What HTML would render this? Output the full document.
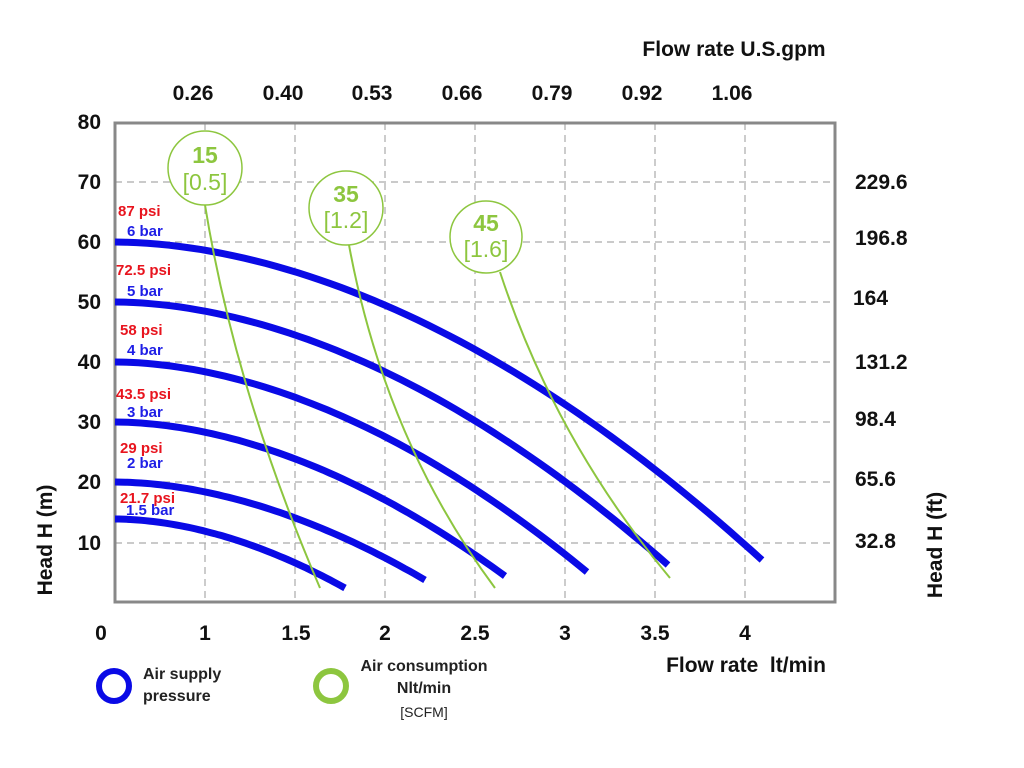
<!DOCTYPE html>
<html><head><meta charset="utf-8"><style>
html,body{margin:0;padding:0;background:#fff;}
svg{display:block;font-family:"Liberation Sans",Arial,sans-serif;}
.b{font-weight:bold;}
</style></head><body>
<svg id="s" width="1024" height="768" viewBox="0 0 1024 768" xmlns="http://www.w3.org/2000/svg">
<rect width="1024" height="768" fill="#fff"/>
<g stroke="#aaa" stroke-width="1.2" stroke-dasharray="7,5" fill="none">
<line x1="205" y1="123" x2="205" y2="602"/><line x1="295" y1="123" x2="295" y2="602"/>
<line x1="385" y1="123" x2="385" y2="602"/><line x1="475" y1="123" x2="475" y2="602"/>
<line x1="565" y1="123" x2="565" y2="602"/><line x1="655" y1="123" x2="655" y2="602"/>
<line x1="745" y1="123" x2="745" y2="602"/>
<line x1="115" y1="182" x2="835" y2="182"/><line x1="115" y1="242" x2="835" y2="242"/>
<line x1="115" y1="302" x2="835" y2="302"/><line x1="115" y1="362" x2="835" y2="362"/>
<line x1="115" y1="422" x2="835" y2="422"/><line x1="115" y1="482" x2="835" y2="482"/>
<line x1="115" y1="543" x2="835" y2="543"/>
</g>
<rect x="115" y="123" width="720" height="479" fill="none" stroke="#888" stroke-width="3"/>
<g id="curves" fill="none" stroke="#0a0ae6" stroke-width="7" stroke-linecap="butt"></g>
<g fill="none" stroke="#8dc63f" stroke-width="2">
<path d="M205,205 Q235,390 320,588"/>
<path d="M349,245 Q385,440 495,588"/>
<path d="M500,272 Q555,440 670,578"/>
<circle cx="205" cy="168" r="37" stroke-width="1.5" fill="#fff"/>
<circle cx="346" cy="208" r="37" stroke-width="1.5" fill="#fff"/>
<circle cx="486" cy="237" r="36" stroke-width="1.5" fill="#fff"/>
<circle cx="114" cy="686" r="15" stroke="#0a0ae6" stroke-width="6"/>
<circle cx="331" cy="686" r="15" stroke="#8dc63f" stroke-width="6"/>
</g>
<g fill="#8dc63f" text-anchor="middle">
<text x="205" y="163" font-size="23" class="b">15</text><text x="205" y="190" font-size="23">[0.5]</text>
<text x="346" y="202" font-size="23" class="b">35</text><text x="346" y="228" font-size="23">[1.2]</text>
<text x="486" y="231" font-size="23" class="b">45</text><text x="486" y="257" font-size="23">[1.6]</text>
</g>
<g font-size="15" class="b">
<g fill="#e8141e"><text x="118" y="216">87 psi</text><text x="116" y="275">72.5 psi</text><text x="120" y="335">58 psi</text><text x="116" y="399">43.5 psi</text><text x="120" y="453">29 psi</text><text x="120" y="503">21.7 psi</text></g>
<g fill="#1e1ee6"><text x="127" y="236">6 bar</text><text x="127" y="296">5 bar</text><text x="127" y="355">4 bar</text><text x="127" y="417">3 bar</text><text x="127" y="468">2 bar</text><text x="126" y="515">1.5 bar</text></g>
</g>
<g font-size="21" class="b" fill="#111">
<text x="734" y="56" text-anchor="middle">Flow rate U.S.gpm</text>
<g text-anchor="middle"><text x="193" y="100">0.26</text><text x="283" y="100">0.40</text><text x="372" y="100">0.53</text><text x="462" y="100">0.66</text><text x="552" y="100">0.79</text><text x="642" y="100">0.92</text><text x="732" y="100">1.06</text></g>
<g text-anchor="end"><text x="101" y="129">80</text><text x="101" y="189">70</text><text x="101" y="249">60</text><text x="101" y="309">50</text><text x="101" y="369">40</text><text x="101" y="429">30</text><text x="101" y="489">20</text><text x="101" y="550">10</text></g>
<g><text x="855" y="189">229.6</text><text x="855" y="245">196.8</text><text x="853" y="305">164</text><text x="855" y="369">131.2</text><text x="855" y="426">98.4</text><text x="855" y="486">65.6</text><text x="855" y="548">32.8</text></g>
<g text-anchor="middle"><text x="101" y="640">0</text><text x="205" y="640">1</text><text x="296" y="640">1.5</text><text x="385" y="640">2</text><text x="475" y="640">2.5</text><text x="565" y="640">3</text><text x="655" y="640">3.5</text><text x="745" y="640">4</text></g>
<text x="746" y="672" text-anchor="middle">Flow rate &#160;lt/min</text>
<text transform="translate(52,540) rotate(-90)" text-anchor="middle">Head H (m)</text>
<text transform="translate(942,545) rotate(-90)" text-anchor="middle">Head H (ft)</text>
</g>
<g font-size="16" class="b" fill="#222">
<text x="143" y="679">Air supply</text><text x="143" y="701">pressure</text>
<text x="424" y="671" text-anchor="middle">Air consumption</text><text x="424" y="693" text-anchor="middle">Nlt/min</text>
</g>
<text x="424" y="717" font-size="14" fill="#222" text-anchor="middle">[SCFM]</text>
<script>
var g=document.getElementById('curves');
var c=[[242,762,560],[302,668,565],[362,587,572],[422,505,576],[482,425,580],[519,345,588]];
c.forEach(function(v){var y0=v[0],xe=v[1],ye=v[2],D=xe-115,n=1.85,a=(ye-y0)/Math.pow(D,n),d='';
for(var i=0;i<=60;i++){var dx=D*i/60;var x=115+dx,y=y0+a*Math.pow(dx,n);d+=(i?'L':'M')+x.toFixed(1)+','+y.toFixed(1);}
var p=document.createElementNS('http://www.w3.org/2000/svg','path');p.setAttribute('d',d);g.appendChild(p);});
</script>
</svg>
</body></html>
